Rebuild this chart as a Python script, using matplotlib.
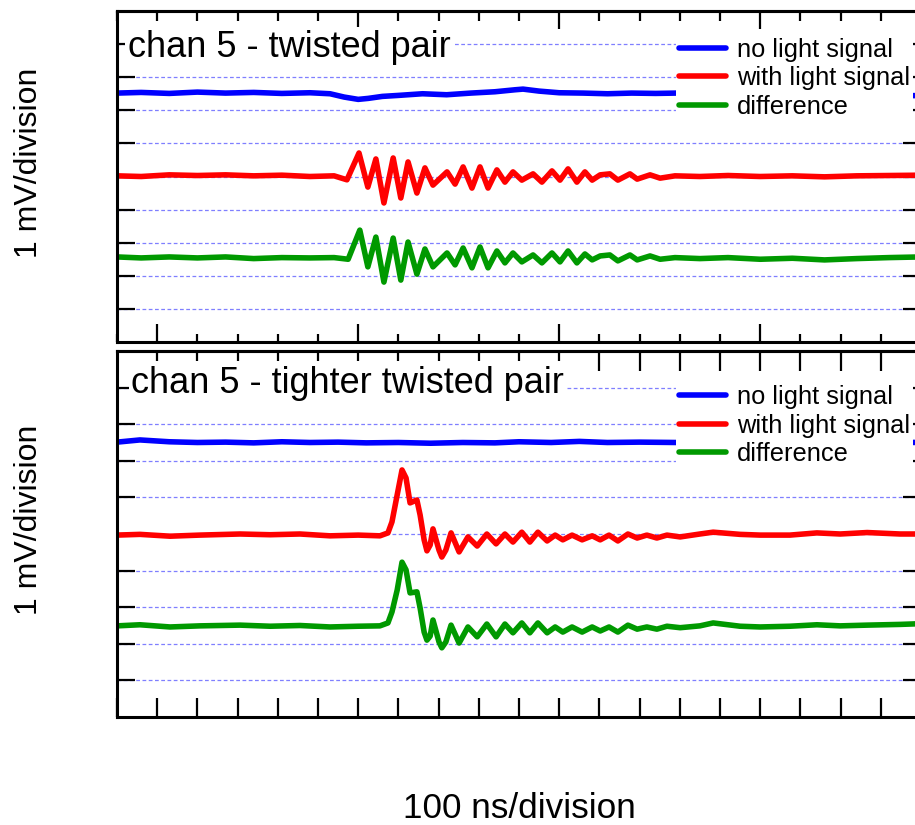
import matplotlib
matplotlib.use("Agg")
import matplotlib.pyplot as plt
from matplotlib.ticker import MultipleLocator, FixedLocator, NullFormatter
from matplotlib.transforms import blended_transform_factory

plt.rcParams['font.family'] = ['Liberation Sans', 'DejaVu Sans']

# ---------------- data (time in ns, signal in mV incl. display offset) -------------
labels = ["no light signal", "with light signal", "difference"]
titles = ["chan 5 - twisted pair", "chan 5 - tighter twisted pair"]
x_label = "100 ns/division"
y_label = "1 mV/division"

# top panel: twisted pair
t1_blue = [0, 60, 130, 200, 270, 340, 410, 480, 530, 565, 600, 625, 660, 700, 760, 820,
           880, 940, 990, 1010, 1050, 1100, 1160, 1220, 1280, 1340, 1391, 1450, 1550,
           1650, 1750, 1850, 1950, 2000]
v1_blue = [7.52, 7.54, 7.51, 7.55, 7.52, 7.54, 7.51, 7.53, 7.50, 7.40, 7.33, 7.36, 7.42,
           7.45, 7.50, 7.47, 7.52, 7.56, 7.62, 7.64, 7.58, 7.53, 7.52, 7.50, 7.52, 7.51,
           7.52, 7.50, 7.52, 7.50, 7.52, 7.48, 7.45, 7.44]

t1_red = [0, 60, 130, 200, 270, 340, 410, 480, 540, 572, 602, 624, 644, 664, 687, 706,
          724, 746, 766, 786, 821, 841, 861, 883, 903, 923, 945, 965, 985, 1007, 1035,
          1057, 1082, 1102, 1122, 1144, 1164, 1182, 1202, 1226, 1246, 1276, 1294, 1326,
          1351, 1388, 1450, 1520, 1600, 1680, 1760, 1840, 1920, 2000]
v1_red = [5.02, 5.00, 5.05, 5.03, 5.05, 5.02, 5.04, 5.00, 5.02, 4.90, 5.71, 4.68, 5.53,
          4.20, 5.56, 4.35, 5.44, 4.50, 5.26, 4.74, 5.14, 4.77, 5.29, 4.65, 5.29, 4.65,
          5.20, 4.83, 5.14, 4.89, 5.08, 4.83, 5.17, 4.89, 5.23, 4.83, 5.14, 4.89, 5.05,
          5.08, 4.89, 5.08, 4.92, 5.05, 4.95, 5.02, 5.00, 5.03, 5.00, 5.02, 4.99, 5.02,
          5.03, 5.04]

t1_green = [0, 60, 130, 200, 270, 340, 410, 480, 540, 575, 604, 624, 644, 664, 687, 706,
            724, 746, 766, 786, 821, 841, 861, 883, 903, 923, 945, 965, 985, 1007, 1035,
            1057, 1082, 1102, 1122, 1144, 1164, 1182, 1202, 1226, 1246, 1276, 1294, 1326,
            1351, 1388, 1450, 1520, 1600, 1680, 1760, 1840, 1920, 2000]
v1_green = [2.57, 2.54, 2.57, 2.54, 2.57, 2.52, 2.55, 2.54, 2.55, 2.50, 3.38, 2.27, 3.17,
            1.81, 3.14, 1.87, 3.02, 2.05, 2.81, 2.27, 2.69, 2.33, 2.84, 2.24, 2.87, 2.24,
            2.75, 2.39, 2.69, 2.42, 2.63, 2.39, 2.69, 2.42, 2.75, 2.39, 2.66, 2.48, 2.60,
            2.63, 2.45, 2.63, 2.48, 2.60, 2.50, 2.55, 2.52, 2.55, 2.50, 2.53, 2.48, 2.52,
            2.55, 2.57]

# bottom panel: tighter twisted pair
t2_blue = [0, 57, 130, 200, 270, 340, 410, 480, 550, 620, 700, 780, 860, 940, 1000, 1080,
           1150, 1220, 1300, 1391, 1500, 1600, 1700, 1800, 1900, 2000]
v2_blue = [7.51, 7.57, 7.52, 7.50, 7.51, 7.49, 7.52, 7.50, 7.51, 7.49, 7.50, 7.48, 7.50,
           7.49, 7.52, 7.50, 7.53, 7.50, 7.51, 7.50, 7.51, 7.50, 7.51, 7.50, 7.51, 7.50]

t2_red = [0, 57, 132, 206, 306, 381, 455, 530, 600, 654, 674, 684, 697, 709, 719, 729,
          746, 754, 764, 771, 779, 786, 801, 808, 818, 831, 851, 873, 896, 920, 943, 965,
          985, 1007, 1027, 1047, 1070, 1090, 1109, 1132, 1157, 1182, 1202, 1224, 1246,
          1271, 1294, 1318, 1343, 1368, 1401, 1450, 1483, 1550, 1600, 1674, 1741, 1799,
          1866, 1948, 2000]
v2_red = [4.97, 4.99, 4.94, 4.97, 5.00, 4.98, 5.00, 4.95, 4.97, 4.95, 5.03, 5.33, 6.07,
          6.75, 6.53, 5.85, 5.93, 5.52, 4.84, 4.54, 4.70, 5.14, 4.56, 4.37, 4.56, 5.03,
          4.51, 4.92, 4.67, 5.00, 4.73, 5.00, 4.78, 5.05, 4.78, 5.05, 4.81, 4.97, 4.84,
          4.97, 4.84, 4.95, 4.84, 4.97, 4.81, 5.00, 4.89, 4.97, 4.89, 4.97, 4.92, 5.00,
          5.05, 4.99, 4.97, 4.97, 5.03, 5.00, 5.04, 5.00, 5.00]

t2_green = [0, 57, 132, 206, 306, 381, 455, 530, 600, 654, 674, 684, 697, 709, 719, 729,
            746, 754, 764, 771, 779, 786, 801, 808, 818, 831, 851, 873, 896, 920, 943,
            965, 985, 1007, 1027, 1047, 1070, 1090, 1109, 1132, 1157, 1182, 1202, 1224,
            1246, 1271, 1294, 1318, 1343, 1368, 1401, 1450, 1483, 1550, 1600, 1674, 1741,
            1799, 1866, 1948, 2000]
v2_green = [2.49, 2.52, 2.46, 2.49, 2.51, 2.48, 2.50, 2.46, 2.48, 2.49, 2.57, 2.87, 3.47,
            4.23, 4.02, 3.39, 3.42, 2.98, 2.32, 2.10, 2.21, 2.65, 2.05, 1.89, 2.05, 2.51,
            2.02, 2.46, 2.19, 2.54, 2.19, 2.54, 2.30, 2.57, 2.30, 2.57, 2.30, 2.46, 2.32,
            2.46, 2.32, 2.46, 2.35, 2.46, 2.32, 2.51, 2.40, 2.46, 2.40, 2.48, 2.44, 2.49,
            2.57, 2.48, 2.46, 2.48, 2.52, 2.49, 2.51, 2.53, 2.55]

colors = ["#0000ff", "#ff0000", "#009900"]

# ---------------- figure ------------------------------------------------------------
W, H = 915, 825
fig = plt.figure(figsize=(W / 100, H / 100), dpi=100)


def rect(l, t, r, b):
    return [l / W, 1 - b / H, (r - l) / W, (b - t) / H]


ax1 = fig.add_axes(rect(117, 11, 921, 342))
ax2 = fig.add_axes(rect(117, 351, 921, 717))

panels = [
    (ax1, [(t1_blue, v1_blue), (t1_red, v1_red), (t1_green, v1_green)]),
    (ax2, [(t2_blue, v2_blue), (t2_red, v2_red), (t2_green, v2_green)]),
]

LW_SPINE = 2.2
TW = 1.6

for i, (ax, series) in enumerate(panels):
    handles = []
    for (t, v), c, lab in zip(series, colors, labels):
        h, = ax.plot(t, v, color=c, lw=4.0, solid_joinstyle="round",
                     solid_capstyle="round", label=lab, zorder=2)
        handles.append(h)
    ax.set_xlim(0, 2000)
    ax.set_ylim(0, 10)

    # horizontal dotted grid
    ax.set_yticks(range(1, 10))
    ax.yaxis.set_major_formatter(NullFormatter())
    ax.yaxis.grid(True, color="#7f7fff", lw=0.9, linestyle=(0, (3, 2)))
    ax.set_axisbelow(True)
    ax.tick_params(axis="y", which="both", left=True, right=True, direction="in",
                   length=13, width=TW, labelleft=False, labelright=False)

    for s in ax.spines.values():
        s.set_linewidth(LW_SPINE)

    ax.xaxis.set_major_formatter(NullFormatter())
    ax.xaxis.set_minor_formatter(NullFormatter())
    sec = ax.secondary_xaxis("top")
    sec.xaxis.set_major_formatter(NullFormatter())
    sec.xaxis.set_minor_formatter(NullFormatter())
    sec.spines["top"].set_linewidth(LW_SPINE)
    if i == 0:
        ax.xaxis.set_major_locator(FixedLocator([100, 600, 1100, 1600]))
        ax.xaxis.set_minor_locator(MultipleLocator(100))
        ax.tick_params(axis="x", which="major", bottom=True, top=False, direction="in",
                       length=13, width=TW)
        ax.tick_params(axis="x", which="minor", bottom=True, top=False, direction="in",
                       length=5.8, width=TW)
        sec.xaxis.set_major_locator(FixedLocator([600, 1100, 1600]))
        sec.xaxis.set_minor_locator(MultipleLocator(100))
        sec.tick_params(axis="x", which="major", direction="in", length=13, width=TW)
        sec.tick_params(axis="x", which="minor", direction="in", length=7.2, width=TW)
    else:
        ax.xaxis.set_major_locator(MultipleLocator(100))
        ax.xaxis.set_minor_locator(FixedLocator([]))
        ax.tick_params(axis="x", which="major", bottom=True, top=False, direction="in",
                       length=13.5, width=TW)
        sec.xaxis.set_major_locator(FixedLocator([1200, 1300, 1400, 1500, 1600, 1700,
                                                  1800, 1900]))
        sec.xaxis.set_minor_locator(FixedLocator([100, 200, 300, 400, 500, 600, 700,
                                                  800, 900, 1000, 1100]))
        sec.tick_params(axis="x", which="major", direction="in", length=14.4, width=TW)
        sec.tick_params(axis="x", which="minor", direction="in", length=7.2, width=TW)

    # panel title
    tr = blended_transform_factory(ax.transAxes, ax.transData)
    ax.text(0.0137 if i == 0 else 0.018, 8.61 if i == 0 else 8.85, titles[i],
            transform=tr, fontsize=26, ha="left", va="baseline", zorder=4,
            bbox=dict(facecolor="white", edgecolor="none", pad=2))

    # legend
    leg = ax.legend(handles=handles, loc="upper right",
                    bbox_to_anchor=(0.9900, 0.927 if i == 0 else 0.9135),
                    bbox_transform=ax.transAxes, frameon=True, fancybox=False,
                    facecolor="white", edgecolor="none", framealpha=1,
                    borderpad=0.1, borderaxespad=0, handlelength=1.85,
                    handletextpad=0.45, labelspacing=0.18, fontsize=18.3)
    leg.get_frame().set_linewidth(0)

fig.text(29 / W, 1 - 163 / H, y_label, rotation=90, fontsize=23, ha="center", va="center")
fig.text(29 / W, 1 - 520 / H, y_label, rotation=90, fontsize=23, ha="center", va="center")
fig.text(519 / W, 1 - 808 / H, x_label, fontsize=25.3, ha="center", va="center")

fig.savefig("out.png", dpi=100)
